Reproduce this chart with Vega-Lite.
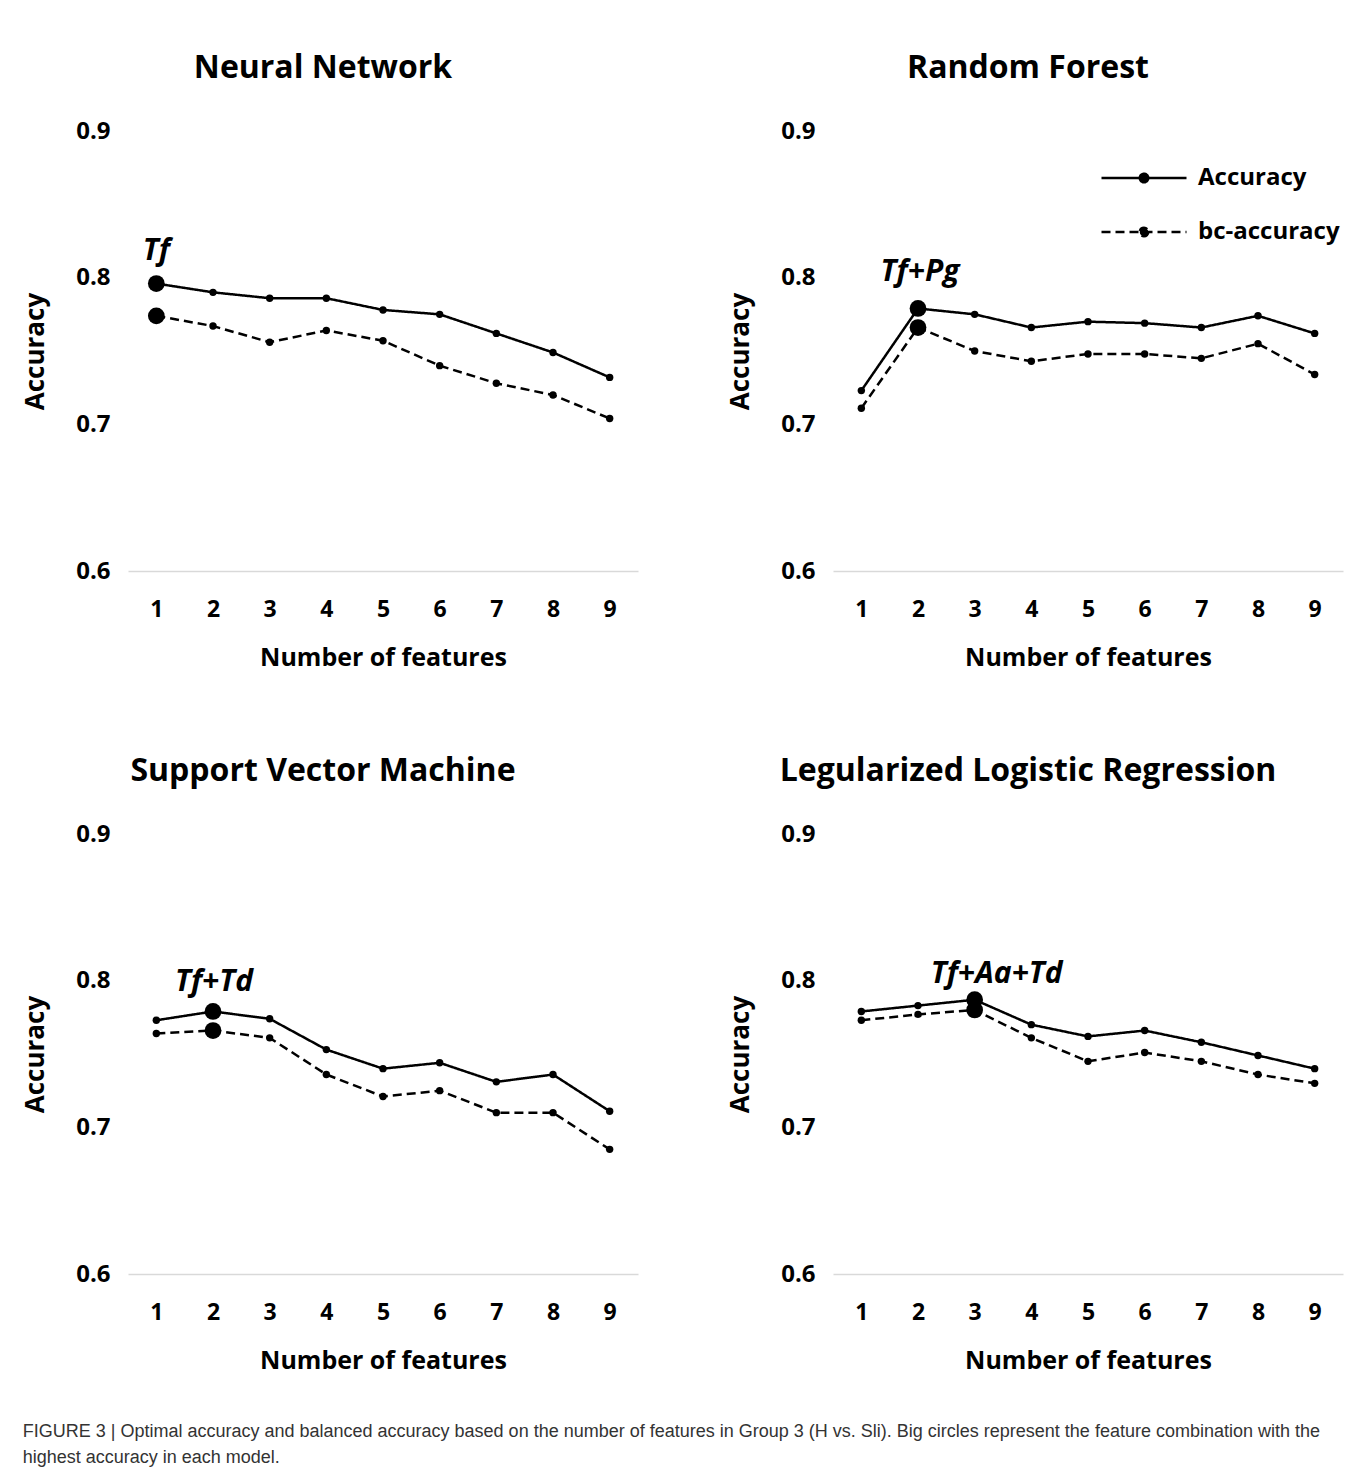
{
  "$schema": "https://vega.github.io/schema/vega-lite/v6.json",
  "autosize": {"type": "pad"},
  "padding": {"left": 22, "top": 52, "right": 5, "bottom": 8},
  "background": "white",
  "datasets": {
    "scores": [
      {"model": "Neural Network", "n": 1, "metric": "Accuracy", "value": 0.796, "best": true, "combo": "Tf"},
      {"model": "Neural Network", "n": 2, "metric": "Accuracy", "value": 0.790, "best": false, "combo": ""},
      {"model": "Neural Network", "n": 3, "metric": "Accuracy", "value": 0.786, "best": false, "combo": ""},
      {"model": "Neural Network", "n": 4, "metric": "Accuracy", "value": 0.786, "best": false, "combo": ""},
      {"model": "Neural Network", "n": 5, "metric": "Accuracy", "value": 0.778, "best": false, "combo": ""},
      {"model": "Neural Network", "n": 6, "metric": "Accuracy", "value": 0.775, "best": false, "combo": ""},
      {"model": "Neural Network", "n": 7, "metric": "Accuracy", "value": 0.762, "best": false, "combo": ""},
      {"model": "Neural Network", "n": 8, "metric": "Accuracy", "value": 0.749, "best": false, "combo": ""},
      {"model": "Neural Network", "n": 9, "metric": "Accuracy", "value": 0.732, "best": false, "combo": ""},
      {"model": "Neural Network", "n": 1, "metric": "bc-accuracy", "value": 0.774, "best": true, "combo": ""},
      {"model": "Neural Network", "n": 2, "metric": "bc-accuracy", "value": 0.767, "best": false, "combo": ""},
      {"model": "Neural Network", "n": 3, "metric": "bc-accuracy", "value": 0.756, "best": false, "combo": ""},
      {"model": "Neural Network", "n": 4, "metric": "bc-accuracy", "value": 0.764, "best": false, "combo": ""},
      {"model": "Neural Network", "n": 5, "metric": "bc-accuracy", "value": 0.757, "best": false, "combo": ""},
      {"model": "Neural Network", "n": 6, "metric": "bc-accuracy", "value": 0.740, "best": false, "combo": ""},
      {"model": "Neural Network", "n": 7, "metric": "bc-accuracy", "value": 0.728, "best": false, "combo": ""},
      {"model": "Neural Network", "n": 8, "metric": "bc-accuracy", "value": 0.720, "best": false, "combo": ""},
      {"model": "Neural Network", "n": 9, "metric": "bc-accuracy", "value": 0.704, "best": false, "combo": ""},
      {"model": "Random Forest", "n": 1, "metric": "Accuracy", "value": 0.723, "best": false, "combo": ""},
      {"model": "Random Forest", "n": 2, "metric": "Accuracy", "value": 0.779, "best": true, "combo": "Tf+Pg"},
      {"model": "Random Forest", "n": 3, "metric": "Accuracy", "value": 0.775, "best": false, "combo": ""},
      {"model": "Random Forest", "n": 4, "metric": "Accuracy", "value": 0.766, "best": false, "combo": ""},
      {"model": "Random Forest", "n": 5, "metric": "Accuracy", "value": 0.770, "best": false, "combo": ""},
      {"model": "Random Forest", "n": 6, "metric": "Accuracy", "value": 0.769, "best": false, "combo": ""},
      {"model": "Random Forest", "n": 7, "metric": "Accuracy", "value": 0.766, "best": false, "combo": ""},
      {"model": "Random Forest", "n": 8, "metric": "Accuracy", "value": 0.774, "best": false, "combo": ""},
      {"model": "Random Forest", "n": 9, "metric": "Accuracy", "value": 0.762, "best": false, "combo": ""},
      {"model": "Random Forest", "n": 1, "metric": "bc-accuracy", "value": 0.711, "best": false, "combo": ""},
      {"model": "Random Forest", "n": 2, "metric": "bc-accuracy", "value": 0.766, "best": true, "combo": ""},
      {"model": "Random Forest", "n": 3, "metric": "bc-accuracy", "value": 0.750, "best": false, "combo": ""},
      {"model": "Random Forest", "n": 4, "metric": "bc-accuracy", "value": 0.743, "best": false, "combo": ""},
      {"model": "Random Forest", "n": 5, "metric": "bc-accuracy", "value": 0.748, "best": false, "combo": ""},
      {"model": "Random Forest", "n": 6, "metric": "bc-accuracy", "value": 0.748, "best": false, "combo": ""},
      {"model": "Random Forest", "n": 7, "metric": "bc-accuracy", "value": 0.745, "best": false, "combo": ""},
      {"model": "Random Forest", "n": 8, "metric": "bc-accuracy", "value": 0.755, "best": false, "combo": ""},
      {"model": "Random Forest", "n": 9, "metric": "bc-accuracy", "value": 0.734, "best": false, "combo": ""},
      {"model": "Support Vector Machine", "n": 1, "metric": "Accuracy", "value": 0.773, "best": false, "combo": ""},
      {"model": "Support Vector Machine", "n": 2, "metric": "Accuracy", "value": 0.779, "best": true, "combo": "Tf+Td"},
      {"model": "Support Vector Machine", "n": 3, "metric": "Accuracy", "value": 0.774, "best": false, "combo": ""},
      {"model": "Support Vector Machine", "n": 4, "metric": "Accuracy", "value": 0.753, "best": false, "combo": ""},
      {"model": "Support Vector Machine", "n": 5, "metric": "Accuracy", "value": 0.740, "best": false, "combo": ""},
      {"model": "Support Vector Machine", "n": 6, "metric": "Accuracy", "value": 0.744, "best": false, "combo": ""},
      {"model": "Support Vector Machine", "n": 7, "metric": "Accuracy", "value": 0.731, "best": false, "combo": ""},
      {"model": "Support Vector Machine", "n": 8, "metric": "Accuracy", "value": 0.736, "best": false, "combo": ""},
      {"model": "Support Vector Machine", "n": 9, "metric": "Accuracy", "value": 0.711, "best": false, "combo": ""},
      {"model": "Support Vector Machine", "n": 1, "metric": "bc-accuracy", "value": 0.764, "best": false, "combo": ""},
      {"model": "Support Vector Machine", "n": 2, "metric": "bc-accuracy", "value": 0.766, "best": true, "combo": ""},
      {"model": "Support Vector Machine", "n": 3, "metric": "bc-accuracy", "value": 0.761, "best": false, "combo": ""},
      {"model": "Support Vector Machine", "n": 4, "metric": "bc-accuracy", "value": 0.736, "best": false, "combo": ""},
      {"model": "Support Vector Machine", "n": 5, "metric": "bc-accuracy", "value": 0.721, "best": false, "combo": ""},
      {"model": "Support Vector Machine", "n": 6, "metric": "bc-accuracy", "value": 0.725, "best": false, "combo": ""},
      {"model": "Support Vector Machine", "n": 7, "metric": "bc-accuracy", "value": 0.710, "best": false, "combo": ""},
      {"model": "Support Vector Machine", "n": 8, "metric": "bc-accuracy", "value": 0.710, "best": false, "combo": ""},
      {"model": "Support Vector Machine", "n": 9, "metric": "bc-accuracy", "value": 0.685, "best": false, "combo": ""},
      {"model": "Legularized Logistic Regression", "n": 1, "metric": "Accuracy", "value": 0.779, "best": false, "combo": ""},
      {"model": "Legularized Logistic Regression", "n": 2, "metric": "Accuracy", "value": 0.783, "best": false, "combo": ""},
      {"model": "Legularized Logistic Regression", "n": 3, "metric": "Accuracy", "value": 0.787, "best": true, "combo": "Tf+Aa+Td"},
      {"model": "Legularized Logistic Regression", "n": 4, "metric": "Accuracy", "value": 0.770, "best": false, "combo": ""},
      {"model": "Legularized Logistic Regression", "n": 5, "metric": "Accuracy", "value": 0.762, "best": false, "combo": ""},
      {"model": "Legularized Logistic Regression", "n": 6, "metric": "Accuracy", "value": 0.766, "best": false, "combo": ""},
      {"model": "Legularized Logistic Regression", "n": 7, "metric": "Accuracy", "value": 0.758, "best": false, "combo": ""},
      {"model": "Legularized Logistic Regression", "n": 8, "metric": "Accuracy", "value": 0.749, "best": false, "combo": ""},
      {"model": "Legularized Logistic Regression", "n": 9, "metric": "Accuracy", "value": 0.740, "best": false, "combo": ""},
      {"model": "Legularized Logistic Regression", "n": 1, "metric": "bc-accuracy", "value": 0.773, "best": false, "combo": ""},
      {"model": "Legularized Logistic Regression", "n": 2, "metric": "bc-accuracy", "value": 0.777, "best": false, "combo": ""},
      {"model": "Legularized Logistic Regression", "n": 3, "metric": "bc-accuracy", "value": 0.780, "best": true, "combo": ""},
      {"model": "Legularized Logistic Regression", "n": 4, "metric": "bc-accuracy", "value": 0.761, "best": false, "combo": ""},
      {"model": "Legularized Logistic Regression", "n": 5, "metric": "bc-accuracy", "value": 0.745, "best": false, "combo": ""},
      {"model": "Legularized Logistic Regression", "n": 6, "metric": "bc-accuracy", "value": 0.751, "best": false, "combo": ""},
      {"model": "Legularized Logistic Regression", "n": 7, "metric": "bc-accuracy", "value": 0.745, "best": false, "combo": ""},
      {"model": "Legularized Logistic Regression", "n": 8, "metric": "bc-accuracy", "value": 0.736, "best": false, "combo": ""},
      {"model": "Legularized Logistic Regression", "n": 9, "metric": "bc-accuracy", "value": 0.730, "best": false, "combo": ""}
    ]
  },
  "title": {
    "text": [
      "FIGURE 3 | Optimal accuracy and balanced accuracy based on the number of features in Group 3 (H vs. Sli). Big circles represent the feature combination with the",
      "highest accuracy in each model."
    ],
    "orient": "bottom",
    "anchor": "start",
    "frame": "bounds",
    "font": "Liberation Sans",
    "fontSize": 18,
    "fontWeight": "normal",
    "color": "#333333",
    "lineHeight": 26,
    "offset": 50
  },
  "columns": 2,
  "spacing": {"row": 263, "column": 195},
  "bounds": "flush",
  "resolve": {"legend": {"strokeDash": "independent"}},
  "concat": [
    {
      "title": {"text": "Neural Network", "anchor": "middle", "frame": "group", "dx": -60, "offset": 34, "font": "Open Sans", "fontSize": 32, "fontWeight": "bold", "color": "black"},
      "width": 510, "height": 440,
      "data": {"name": "scores"},
      "transform": [{"filter": "datum.model === 'Neural Network'"}],
      "encoding": {
        "x": {"field": "n", "type": "ordinal", "scale": {"type": "point", "padding": 0.5}, "title": "Number of features"},
        "y": {"field": "value", "type": "quantitative", "scale": {"domain": [0.6, 0.9], "nice": false, "zero": false}, "axis": {"values": [0.6, 0.7, 0.8, 0.9], "format": ".1f"}, "title": "Accuracy"}
      },
      "layer": [
        {"mark": {"type": "line", "color": "black", "strokeWidth": 2.5}, "encoding": {"strokeDash": {"field": "metric", "type": "nominal", "scale": {"domain": ["Accuracy", "bc-accuracy"], "range": [[1, 0], [9, 5]]}, "legend": null}}},
        {"mark": {"type": "point", "filled": true, "color": "black", "opacity": 1, "size": 55}},
        {"transform": [{"filter": "datum.best"}], "mark": {"type": "point", "filled": true, "color": "black", "opacity": 1, "size": 280}},
        {"transform": [{"filter": "datum.combo !== ''"}], "mark": {"type": "text", "font": "Open Sans", "fontSize": 30, "fontWeight": "bold", "fontStyle": "italic", "color": "black", "dy": -33, "dx": 0}, "encoding": {"text": {"field": "combo"}}}
      ]
    },
    {
      "title": {"text": "Random Forest", "anchor": "middle", "frame": "group", "dx": -60, "offset": 34, "font": "Open Sans", "fontSize": 32, "fontWeight": "bold", "color": "black"},
      "width": 510, "height": 440,
      "data": {"name": "scores"},
      "transform": [{"filter": "datum.model === 'Random Forest'"}],
      "encoding": {
        "x": {"field": "n", "type": "ordinal", "scale": {"type": "point", "padding": 0.5}, "title": "Number of features"},
        "y": {"field": "value", "type": "quantitative", "scale": {"domain": [0.6, 0.9], "nice": false, "zero": false}, "axis": {"values": [0.6, 0.7, 0.8, 0.9], "format": ".1f"}, "title": "Accuracy"}
      },
      "layer": [
        {"mark": {"type": "line", "color": "black", "strokeWidth": 2.5}, "encoding": {"strokeDash": {"field": "metric", "type": "nominal", "scale": {"domain": ["Accuracy", "bc-accuracy"], "range": [[1, 0], [9, 5]]},
          "legend": {"title": null, "orient": "none", "legendX": 267, "legendY": 32, "padding": 0,
            "symbolType": "M-1,0H1M0.1,0A0.1,0.1,0,1,1,-0.1,0A0.1,0.1,0,1,1,0.1,0Z",
            "symbolSize": 7225, "symbolStrokeWidth": 2.5, "symbolStrokeColor": "black", "symbolFillColor": "black",
            "clipHeight": 30, "rowPadding": 24, "labelOffset": 10,
            "labelFont": "Open Sans", "labelFontSize": 24, "labelFontWeight": "bold", "labelColor": "black",
            "encode": {"symbols": {"update": {"fill": {"value": "black"}, "stroke": {"value": "black"}, "opacity": {"value": 1}}}}}}}},
        {"mark": {"type": "point", "filled": true, "color": "black", "opacity": 1, "size": 55}},
        {"transform": [{"filter": "datum.best"}], "mark": {"type": "point", "filled": true, "color": "black", "opacity": 1, "size": 280}},
        {"transform": [{"filter": "datum.combo !== ''"}], "mark": {"type": "text", "font": "Open Sans", "fontSize": 30, "fontWeight": "bold", "fontStyle": "italic", "color": "black", "dy": -36, "dx": 2}, "encoding": {"text": {"field": "combo"}}}
      ]
    },
    {
      "title": {"text": "Support Vector Machine", "anchor": "middle", "frame": "group", "dx": -60, "offset": 34, "font": "Open Sans", "fontSize": 32, "fontWeight": "bold", "color": "black"},
      "width": 510, "height": 440,
      "data": {"name": "scores"},
      "transform": [{"filter": "datum.model === 'Support Vector Machine'"}],
      "encoding": {
        "x": {"field": "n", "type": "ordinal", "scale": {"type": "point", "padding": 0.5}, "title": "Number of features"},
        "y": {"field": "value", "type": "quantitative", "scale": {"domain": [0.6, 0.9], "nice": false, "zero": false}, "axis": {"values": [0.6, 0.7, 0.8, 0.9], "format": ".1f"}, "title": "Accuracy"}
      },
      "layer": [
        {"mark": {"type": "line", "color": "black", "strokeWidth": 2.5}, "encoding": {"strokeDash": {"field": "metric", "type": "nominal", "scale": {"domain": ["Accuracy", "bc-accuracy"], "range": [[1, 0], [9, 5]]}, "legend": null}}},
        {"mark": {"type": "point", "filled": true, "color": "black", "opacity": 1, "size": 55}},
        {"transform": [{"filter": "datum.best"}], "mark": {"type": "point", "filled": true, "color": "black", "opacity": 1, "size": 280}},
        {"transform": [{"filter": "datum.combo !== ''"}], "mark": {"type": "text", "font": "Open Sans", "fontSize": 30, "fontWeight": "bold", "fontStyle": "italic", "color": "black", "dy": -29, "dx": 1}, "encoding": {"text": {"field": "combo"}}}
      ]
    },
    {
      "title": {"text": "Legularized Logistic Regression", "anchor": "middle", "frame": "group", "dx": -60, "offset": 34, "font": "Open Sans", "fontSize": 32, "fontWeight": "bold", "color": "black"},
      "width": 510, "height": 440,
      "data": {"name": "scores"},
      "transform": [{"filter": "datum.model === 'Legularized Logistic Regression'"}],
      "encoding": {
        "x": {"field": "n", "type": "ordinal", "scale": {"type": "point", "padding": 0.5}, "title": "Number of features"},
        "y": {"field": "value", "type": "quantitative", "scale": {"domain": [0.6, 0.9], "nice": false, "zero": false}, "axis": {"values": [0.6, 0.7, 0.8, 0.9], "format": ".1f"}, "title": "Accuracy"}
      },
      "layer": [
        {"mark": {"type": "line", "color": "black", "strokeWidth": 2.5}, "encoding": {"strokeDash": {"field": "metric", "type": "nominal", "scale": {"domain": ["Accuracy", "bc-accuracy"], "range": [[1, 0], [9, 5]]}, "legend": null}}},
        {"mark": {"type": "point", "filled": true, "color": "black", "opacity": 1, "size": 55}},
        {"transform": [{"filter": "datum.best"}], "mark": {"type": "point", "filled": true, "color": "black", "opacity": 1, "size": 280}},
        {"transform": [{"filter": "datum.combo !== ''"}], "mark": {"type": "text", "font": "Open Sans", "fontSize": 30, "fontWeight": "bold", "fontStyle": "italic", "color": "black", "dy": -26, "dx": 22}, "encoding": {"text": {"field": "combo"}}}
      ]
    }
  ],
  "config": {
    "view": {"stroke": null},
    "axis": {"labelFont": "Open Sans", "labelFontWeight": "bold", "labelColor": "black", "titleFont": "Open Sans", "titleFontWeight": "bold", "titleColor": "black", "ticks": false, "grid": false},
    "axisY": {"domain": false, "labelFontSize": 24, "labelPadding": 18, "titleFontSize": 26, "titlePadding": 27},
    "axisX": {"labelAngle": 0, "labelFontSize": 23, "labelPadding": 27, "titleFontSize": 25, "titlePadding": 24, "domainColor": "#d9d9d9", "domainWidth": 1.5}
  }
}
